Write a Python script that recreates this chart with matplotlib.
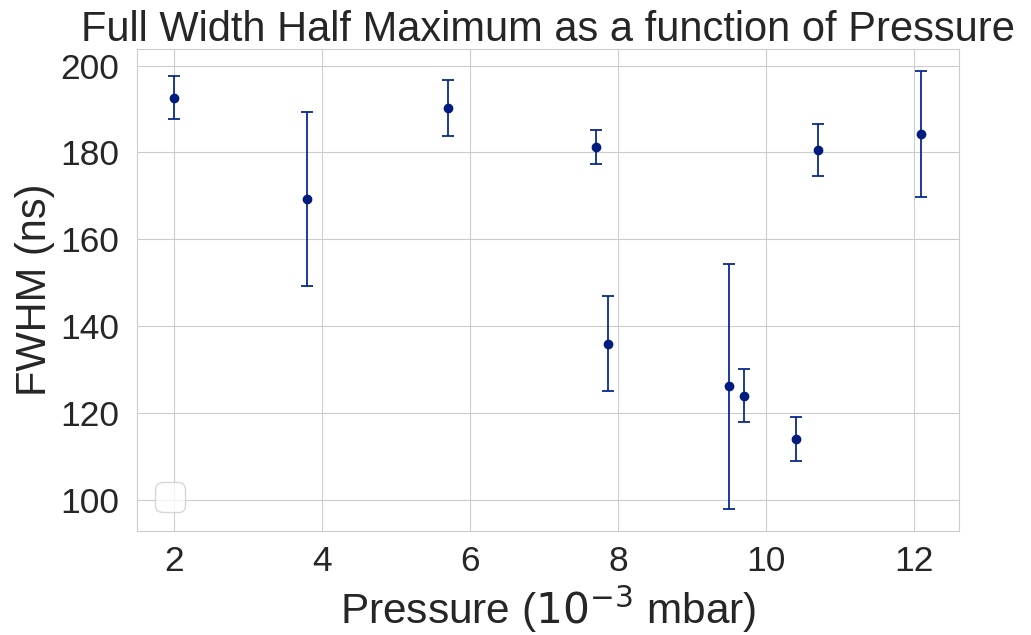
import matplotlib
matplotlib.use("Agg")
import matplotlib.pyplot as plt
import seaborn as sns

# FWHM measurements against chamber pressure
pressure = [2.0, 3.8, 5.7, 7.7, 7.86, 9.5, 9.7, 10.4, 10.7, 12.1]
fwhm = [192.6, 169.2, 190.2, 181.3, 136.0, 126.1, 124.0, 114.0, 180.5, 184.3]
fwhm_err = [5.0, 20.0, 6.4, 3.9, 11.0, 28.2, 6.1, 5.0, 6.0, 14.5]

sns.set_style("whitegrid")
plt.rcParams["font.family"] = ["Liberation Sans", "DejaVu Sans"]

fig = plt.figure(figsize=(10.31, 6.35), dpi=100)
ax = fig.add_axes([0.1326, 0.164, 0.7974, 0.759])

ax.errorbar(
    pressure,
    fwhm,
    yerr=fwhm_err,
    fmt="o",
    color="#001c7f",
    ecolor="#0a2a8f",
    markersize=6,
    elinewidth=1.3,
    capsize=4,
    capthick=1.3,
)

ax.set_title("Full Width Half Maximum as a function of Pressure", fontsize=30, color="#262626")
ax.set_xlabel(r"Pressure ($10^{-3}$ mbar)", fontsize=30.5, color="#262626")
ax.set_ylabel("FWHM (ns)", fontsize=30, color="#262626")
ax.tick_params(axis="both", labelsize=25.5, colors="#262626")
ax.tick_params(axis="x", pad=7)
ax.tick_params(axis="y", pad=9)
ax.set_yticks([100, 120, 140, 160, 180, 200])
ax.set_xticks([2, 4, 6, 8, 10, 12])
ax.legend(loc="lower left", fontsize=27)

fig.savefig("out.png", dpi=100)
